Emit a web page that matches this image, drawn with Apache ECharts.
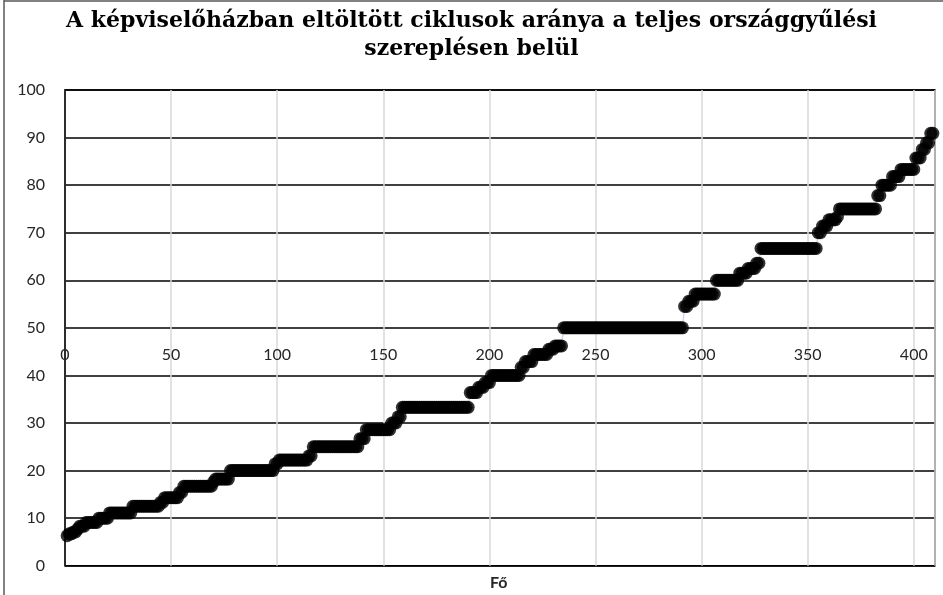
<!DOCTYPE html>
<html><head><meta charset="utf-8">
<script src="https://cdn.jsdelivr.net/npm/echarts@6/dist/echarts.min.js"></script>
<style>html,body{margin:0;padding:0;background:#fff}#c{width:943px;height:595px}</style>
</head><body><div id="c"></div>
<script>
const levels = [6.3,6.7,7.1,7.7,8.3,9.1,10,11.1,12.5,13.3,14.3,15.4,16.7,17.6,18.2,20,21.4,22.2,23.1,25,26.7,28.6,30,31.3,33.3,36.4,37.5,38.5,40,41.7,42.9,44.4,45.5,46.2,50,54.5,55.6,57.1,60,61.5,62.5,63.6,66.7,70,71.4,72.7,73.3,75,77.8,80,81.8,83.3,85.7,87.5,88.9,90.9];
const counts = [1,2,2,1,3,6,5,11,13,2,7,2,14,1,7,21,2,14,2,22,3,12,3,2,32,4,3,3,14,2,4,7,3,4,57,2,3,10,11,4,4,2,27,2,3,4,1,18,2,5,4,7,3,2,2,2];
const xTicks = [0,50,100,150,200,250,300,350,400];
const yTicks = [0,10,20,30,40,50,60,70,80,90,100];
const titleLines = ['A képviselőházban eltöltött ciklusok aránya a teljes országgyűlési','szereplésen belül'];
const xName = 'Fő';

const points = [];
let idx = 1;
levels.forEach((v,i)=>{ for(let k=0;k<counts[i];k++){ points.push([idx, v]); idx++; } });

const chart = echarts.init(document.getElementById('c'), null, {renderer:'canvas'});
const GL=65, GT=90, GR=935, GB=565.7;
chart.setOption({
  animation:false,
  backgroundColor:'#fff',
  title:{text:titleLines.join('\n'), left:'center', top:2,
    textStyle:{fontFamily:'DejaVu Serif', fontWeight:'bold', fontSize:22, lineHeight:28, color:'#000'}},
  grid:{left:GL, top:GT, right:943-GR, bottom:595-GB, show:true, borderColor:'#000', borderWidth:1.5},
  xAxis:{type:'value', min:0, max:410, interval:50, offset:-(GB-GT)*0.5,
    axisLine:{show:false}, axisTick:{show:false},
    axisLabel:{margin:19, fontFamily:'Lato', fontSize:16, color:'#262626', showMaxLabel:false,
      formatter:v=>xTicks.indexOf(v)>=0?String(v):''},
    splitLine:{show:true, lineStyle:{color:'#d9d9d9', width:1.5}}},
  yAxis:{type:'value', min:0, max:100, interval:10,
    axisLine:{show:true, lineStyle:{color:'#000', width:1.5}}, axisTick:{show:false},
    axisLabel:{margin:20, fontFamily:'Lato', fontSize:16, color:'#262626',
      formatter:v=>yTicks.indexOf(v)>=0?String(v):''},
    splitLine:{show:true, lineStyle:{color:'#000', width:1.5}}},
  graphic:[
    {type:'text', left:(GL+GR)/2-10, top:575, style:{text:xName, fontFamily:'Lato', fontWeight:'bold', fontSize:16, fill:'#262626'}},
    {type:'line', shape:{x1:4,y1:0,x2:4,y2:595}, style:{stroke:'#595959', lineWidth:1.5}},
    {type:'line', shape:{x1:4,y1:1,x2:943,y2:1}, style:{stroke:'#595959', lineWidth:1.5}}
  ],
  series:[
    {type:'line', data:points, showSymbol:false, symbol:'none', lineStyle:{color:'#c9d8ef', width:1.5}, z:2, silent:true},
    {type:'scatter', data:points, symbol:'circle', symbolSize:13, itemStyle:{color:'#000'}, z:3}
  ]
});
</script></body></html>
